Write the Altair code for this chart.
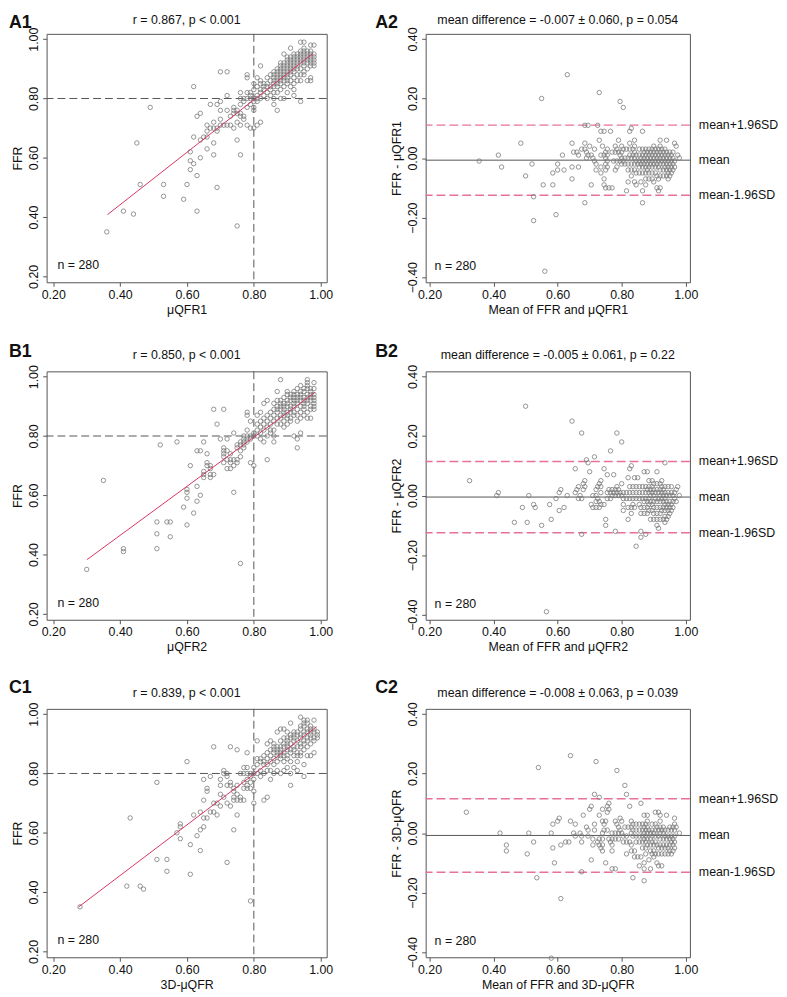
import altair as alt
import pandas as pd

FONT = "Liberation Sans"
INK = "#111111"
PT = "#7a7a7a"
FRAME = "#555555"
RED = "#d8355f"
PINK = "#e8709a"

# ---------------- data ----------------
# Panel A: (uQFR1 value, FFR values observed at that uQFR1)
a_cols = [
    (0.36, [0.35]), (0.41, [0.42]), (0.44, [0.41]), (0.45, [0.65]), (0.46, [0.51]),
    (0.49, [0.77]), (0.53, [0.51, 0.47]), (0.59, [0.46]), (0.60, [0.51]),
    (0.61, [0.62, 0.59, 0.56]), (0.62, [0.84, 0.58, 0.67]), (0.63, [0.54, 0.42, 0.74]),
    (0.64, [0.75, 0.60, 0.66]), (0.65, [0.67]), (0.66, [0.67, 0.63, 0.69, 0.71]),
    (0.67, [0.78, 0.70]), (0.68, [0.72, 0.65, 0.61, 0.70]), (0.69, [0.50, 0.69, 0.70, 0.78]),
    (0.70, [0.79, 0.89, 0.73, 0.76, 0.71]), (0.71, [0.71]), (0.72, [0.89, 0.81, 0.76, 0.71]),
    (0.73, [0.71, 0.74]), (0.74, [0.70, 0.76, 0.75, 0.77]), (0.75, [0.72, 0.66, 0.37, 0.75, 0.76]),
    (0.76, [0.61, 0.71, 0.82, 0.80, 0.78, 0.74, 0.75]), (0.77, [0.74, 0.73, 0.80, 0.79]),
    (0.78, [0.87, 0.88, 0.82, 0.71, 0.80, 0.77]), (0.79, [0.82, 0.70, 0.80, 0.78, 0.81]),
    (0.80, [0.70, 0.76, 0.77, 0.79, 0.80, 0.83, 0.85]), (0.81, [0.71, 0.79, 0.80, 0.81, 0.84, 0.87]),
    (0.82, [0.72, 0.91, 0.80, 0.82, 0.83, 0.85, 0.86]), (0.83, [0.85, 0.81, 0.83, 0.84]),
    (0.84, [0.87, 0.80, 0.82, 0.84, 0.85]), (0.85, [0.81, 0.83, 0.84, 0.86, 0.88]),
    (0.86, [0.78, 0.80, 0.82, 0.84, 0.85, 0.86, 0.87, 0.88, 0.89]),
    (0.87, [0.76, 0.82, 0.84, 0.85, 0.86, 0.87, 0.88, 0.89, 0.90]),
    (0.88, [0.80, 0.83, 0.85, 0.86, 0.87, 0.88, 0.89, 0.90, 0.91, 0.92]),
    (0.89, [0.80, 0.84, 0.86, 0.87, 0.88, 0.89, 0.90, 0.91, 0.92, 0.95]),
    (0.90, [0.82, 0.85, 0.86, 0.87, 0.88, 0.89, 0.90, 0.91, 0.92, 0.93, 0.94]),
    (0.91, [0.84, 0.86, 0.88, 0.89, 0.90, 0.91, 0.92, 0.93, 0.94, 0.97]),
    (0.92, [0.81, 0.83, 0.85, 0.87, 0.89, 0.90, 0.91, 0.92, 0.93, 0.94, 0.95]),
    (0.93, [0.86, 0.88, 0.90, 0.91, 0.92, 0.93, 0.94, 0.95]),
    (0.94, [0.79, 0.86, 0.88, 0.90, 0.92, 0.93, 0.94, 0.95, 0.96, 0.99]),
    (0.95, [0.88, 0.89, 0.91, 0.92, 0.93, 0.94, 0.95, 0.96, 0.97, 0.99]),
    (0.96, [0.86, 0.90, 0.92, 0.93, 0.94, 0.95, 0.96]),
    (0.97, [0.86, 0.87, 0.91, 0.92, 0.93, 0.94, 0.95, 0.96, 0.98]),
    (0.98, [0.91, 0.92, 0.93, 0.94, 0.95, 0.98]),
]

# Panel B: (uQFR2 value, FFR values)
b_cols = [
    (0.30, [0.35]), (0.35, [0.65]), (0.41, [0.42, 0.41]), (0.51, [0.51, 0.47, 0.42]),
    (0.52, [0.77]), (0.54, [0.51]), (0.55, [0.51, 0.46]), (0.57, [0.78]), (0.59, [0.56]),
    (0.60, [0.62, 0.61, 0.59, 0.50]), (0.61, [0.70]), (0.62, [0.54]), (0.63, [0.75, 0.63, 0.58]),
    (0.64, [0.75, 0.60]), (0.65, [0.78, 0.68, 0.67, 0.66]), (0.66, [0.74, 0.71, 0.70]),
    (0.67, [0.69, 0.67, 0.66, 0.70]), (0.68, [0.67, 0.89]), (0.69, [0.84]), (0.70, [0.79]),
    (0.71, [0.89, 0.76, 0.75, 0.74, 0.73, 0.71]), (0.72, [0.79, 0.72, 0.69, 0.75]),
    (0.73, [0.74, 0.72, 0.71, 0.69]), (0.74, [0.81, 0.72, 0.70, 0.61]),
    (0.75, [0.77, 0.76, 0.72, 0.71]), (0.76, [0.37, 0.73, 0.77, 0.78, 0.75]),
    (0.77, [0.76, 0.78, 0.79, 0.80, 0.77]), (0.78, [0.88, 0.87, 0.82, 0.79, 0.80, 0.78]),
    (0.79, [0.71, 0.80, 0.79, 0.85]), (0.80, [0.70, 0.80, 0.81]), (0.81, [0.84, 0.87, 0.80, 0.82]),
    (0.82, [0.88, 0.79, 0.81, 0.83, 0.85]), (0.83, [0.91, 0.78, 0.82, 0.84, 0.86]),
    (0.84, [0.92, 0.72, 0.80, 0.83, 0.85, 0.87]), (0.85, [0.81, 0.82, 0.84, 0.86, 0.88]),
    (0.86, [0.78, 0.80, 0.82, 0.85, 0.87, 0.89, 0.91]),
    (0.87, [0.84, 0.86, 0.88, 0.89, 0.90, 0.92, 0.95]),
    (0.88, [0.99, 0.84, 0.86, 0.87, 0.89, 0.90, 0.91, 0.92]),
    (0.89, [0.83, 0.85, 0.87, 0.88, 0.89, 0.90, 0.91, 0.93]),
    (0.90, [0.84, 0.86, 0.87, 0.88, 0.90, 0.91, 0.92, 0.94, 0.95]),
    (0.91, [0.85, 0.86, 0.88, 0.89, 0.90, 0.92, 0.93, 0.94]),
    (0.92, [0.80, 0.87, 0.88, 0.90, 0.91, 0.92, 0.93, 0.94, 0.95]),
    (0.93, [0.79, 0.76, 0.85, 0.87, 0.89, 0.91, 0.92, 0.93, 0.94, 0.96]),
    (0.94, [0.81, 0.86, 0.88, 0.90, 0.92, 0.93, 0.94, 0.95, 0.97]),
    (0.95, [0.87, 0.89, 0.90, 0.91, 0.92, 0.93, 0.95, 0.96]),
    (0.96, [0.86, 0.88, 0.91, 0.92, 0.93, 0.94, 0.96, 0.97, 0.98, 0.99]),
    (0.97, [0.86, 0.89, 0.90, 0.92, 0.93, 0.94, 0.95, 0.96]),
    (0.98, [0.89, 0.90, 0.91, 0.92, 0.93, 0.94, 0.96, 0.98]),
]

# Panel C: (3D-uQFR value, FFR values)
c_cols = [
    (0.28, [0.35]), (0.42, [0.42]), (0.43, [0.65]), (0.46, [0.42]), (0.47, [0.41]),
    (0.51, [0.77, 0.51]), (0.54, [0.51, 0.47]), (0.57, [0.60]), (0.58, [0.63, 0.62, 0.58]),
    (0.60, [0.84]), (0.61, [0.56, 0.46]), (0.62, [0.66]), (0.63, [0.59]),
    (0.64, [0.54, 0.61, 0.67]), (0.65, [0.62, 0.71, 0.78, 0.65]), (0.66, [0.75, 0.74, 0.65]),
    (0.67, [0.79, 0.67]), (0.68, [0.67, 0.89, 0.70]), (0.69, [0.66, 0.70]),
    (0.70, [0.78, 0.69, 0.73, 0.76]), (0.71, [0.81, 0.72, 0.80]),
    (0.72, [0.80, 0.76, 0.70, 0.50, 0.79]), (0.73, [0.89, 0.69, 0.77, 0.76]),
    (0.74, [0.61, 0.75, 0.71, 0.72, 0.74]), (0.75, [0.88, 0.66, 0.76, 0.71, 0.73]),
    (0.76, [0.71, 0.80, 0.72]), (0.77, [0.71, 0.80, 0.82, 0.75, 0.77]),
    (0.78, [0.87, 0.80, 0.82, 0.75, 0.78, 0.76]), (0.79, [0.80, 0.37, 0.77, 0.79, 0.75]),
    (0.80, [0.70, 0.74, 0.78, 0.80, 0.82]), (0.81, [0.91, 0.80, 0.83, 0.85]),
    (0.82, [0.79, 0.81, 0.84, 0.85]), (0.83, [0.71, 0.80, 0.83, 0.84, 0.86]),
    (0.84, [0.72, 0.81, 0.83, 0.85, 0.87, 0.90]), (0.85, [0.78, 0.81, 0.84, 0.86, 0.88, 0.91]),
    (0.86, [0.80, 0.83, 0.85, 0.87, 0.88, 0.89, 0.90]),
    (0.87, [0.81, 0.84, 0.86, 0.87, 0.88, 0.89, 0.94]),
    (0.88, [0.80, 0.85, 0.86, 0.87, 0.88, 0.89, 0.91, 0.95]),
    (0.89, [0.81, 0.84, 0.86, 0.87, 0.89, 0.90, 0.92, 0.95]),
    (0.90, [0.82, 0.85, 0.86, 0.88, 0.89, 0.90, 0.91, 0.92, 0.94]),
    (0.91, [0.76, 0.80, 0.84, 0.87, 0.88, 0.90, 0.92, 0.93, 0.97]),
    (0.92, [0.82, 0.86, 0.88, 0.89, 0.91, 0.92, 0.93, 0.94]),
    (0.93, [0.81, 0.84, 0.86, 0.87, 0.89, 0.91, 0.93, 0.94]),
    (0.94, [0.86, 0.87, 0.89, 0.90, 0.92, 0.93, 0.95, 0.96, 0.99]),
    (0.95, [0.79, 0.83, 0.88, 0.90, 0.91, 0.93, 0.94, 0.96, 0.97, 0.98]),
    (0.96, [0.86, 0.89, 0.91, 0.92, 0.94, 0.95, 0.97, 0.98]),
    (0.97, [0.86, 0.90, 0.92, 0.93, 0.94, 0.95, 0.96]),
    (0.98, [0.87, 0.91, 0.92, 0.94, 0.95, 0.98]),
    (0.99, [0.92, 0.93, 0.94]),
]

# regression line end points (x, y)
reg_a_x, reg_a_y = [0.362, 0.977], [0.408, 0.952]
reg_b_x, reg_b_y = [0.301, 0.983], [0.383, 0.947]
reg_c_x, reg_c_y = [0.276, 0.988], [0.350, 0.958]

# Bland-Altman summaries from the panel titles: mean difference, SD
ba_a = [-0.007, 0.060]
ba_b = [-0.005, 0.061]
ba_c = [-0.008, 0.063]

titles_r = ["r = 0.867, p < 0.001", "r = 0.850, p < 0.001", "r = 0.839, p < 0.001"]
titles_ba = ["mean difference = -0.007 \u00b1 0.060, p = 0.054",
             "mean difference = -0.005 \u00b1 0.061, p = 0.22",
             "mean difference = -0.008 \u00b1 0.063, p = 0.039"]
methods = ["\u03bcQFR1", "\u03bcQFR2", "3D-\u03bcQFR"]
tags = [("A1", "A2"), ("B1", "B2"), ("C1", "C2")]
n_label = "n = 280"
ticks_sc = [0.2, 0.4, 0.6, 0.8, 1.0]
ticks_ba = [-0.4, -0.2, 0.0, 0.2, 0.4]
cut_value = [0.8]
ba_labels = ["mean+1.96SD", "mean", "mean-1.96SD"]

# ---------------- layout ----------------
W1, W2, H = 283, 267, 251
SC_DOM = [0.18, 1.018]
BA_X = [0.188, 1.013]
BA_Y = [-0.417, 0.417]
# (title baseline, tag baseline) above each row's plot frame
ROW_OFFSETS = [(-10, -6), (-12, -15), (-12, -16)]


def flatten(cols):
    xs, ys = [], []
    for x, ylist in cols:
        for y in ylist:
            xs.append(x)
            ys.append(y)
    return xs, ys


def text_layer(txt, x, y, size=12.5, weight="normal", align="left"):
    return alt.Chart(pd.DataFrame({"t": [txt]})).mark_text(
        align=align, baseline="alphabetic", font=FONT, fontSize=size,
        fontWeight=weight, color=INK).encode(x=alt.value(x), y=alt.value(y), text="t:N")


def scatter_panel(cols, rx, ry, title, method, tag, offs):
    qx, fy = flatten(cols)
    xs = alt.Scale(domain=SC_DOM, nice=False, zero=False)
    ys = alt.Scale(domain=SC_DOM, nice=False, zero=False)
    X = alt.X("q:Q", scale=xs, axis=alt.Axis(title=method, values=ticks_sc, format=".2f"))
    Y = alt.Y("f:Q", scale=ys, axis=alt.Axis(title="FFR", values=ticks_sc, format=".2f"))
    pts = alt.Chart(pd.DataFrame({"q": qx, "f": fy})).mark_point(
        shape="circle", filled=False, size=20, color=PT, strokeWidth=0.8, opacity=1
    ).encode(x=X, y=Y)
    vline = alt.Chart(pd.DataFrame({"q": cut_value})).mark_rule(
        color=FRAME, strokeDash=[8, 4], strokeWidth=1).encode(x=X)
    hline = alt.Chart(pd.DataFrame({"f": cut_value})).mark_rule(
        color=FRAME, strokeDash=[8, 4], strokeWidth=1).encode(y=Y)
    reg = alt.Chart(pd.DataFrame({"q": rx, "f": ry})).mark_line(
        color=RED, strokeWidth=1).encode(x=X, y=Y)
    n_txt = text_layer(n_label, 11, H - 13)
    tag_txt = text_layer(tag, -38, offs[1], size=18, weight="bold")
    ttl = text_layer(title, W1 / 2, offs[0], align="center")
    return alt.layer(vline, hline, pts, reg, n_txt, tag_txt, ttl).properties(width=W1, height=H)


def ba_panel(cols, stats, title, method, tag, offs):
    qx, fy = flatten(cols)
    m = [(a + b) / 2 for a, b in zip(qx, fy)]
    d = [round(b - a, 3) for a, b in zip(qx, fy)]
    mean, sd = stats
    upper, lower = mean + 1.96 * sd, mean - 1.96 * sd
    xs = alt.Scale(domain=BA_X, nice=False, zero=False)
    ys = alt.Scale(domain=BA_Y, nice=False, zero=False)
    X = alt.X("m:Q", scale=xs, axis=alt.Axis(title="Mean of FFR and " + method,
                                             values=ticks_sc, format=".2f"))
    Y = alt.Y("d:Q", scale=ys, axis=alt.Axis(title="FFR - " + method,
                                             values=ticks_ba, format=".2f"))
    pts = alt.Chart(pd.DataFrame({"m": m, "d": d})).mark_point(
        shape="circle", filled=False, size=20, color=PT, strokeWidth=0.8, opacity=1
    ).encode(x=X, y=Y)
    mline = alt.Chart(pd.DataFrame({"d": [mean]})).mark_rule(
        color=FRAME, strokeWidth=1).encode(y=Y)
    lim = alt.Chart(pd.DataFrame({"d": [upper, lower]})).mark_rule(
        color=PINK, strokeDash=[9, 4], strokeWidth=1.5).encode(y=Y)
    labs = alt.Chart(pd.DataFrame({"d": [upper, mean, lower], "t": ba_labels})).mark_text(
        align="left", baseline="middle", font=FONT, fontSize=12.5, color=INK
    ).encode(x=alt.value(W2 + 9), y=Y, text="t:N")
    n_txt = text_layer(n_label, 9, H - 12)
    tag_txt = text_layer(tag, -51, offs[1], size=18, weight="bold")
    ttl = text_layer(title, W2 / 2, offs[0], align="center")
    return alt.layer(lim, mline, pts, labs, n_txt, tag_txt, ttl).properties(width=W2, height=H)


panels = []
for cols, rx, ry, st, tr, tb, meth, tg, offs in [
    (a_cols, reg_a_x, reg_a_y, ba_a, titles_r[0], titles_ba[0], methods[0], tags[0], ROW_OFFSETS[0]),
    (b_cols, reg_b_x, reg_b_y, ba_b, titles_r[1], titles_ba[1], methods[1], tags[1], ROW_OFFSETS[1]),
    (c_cols, reg_c_x, reg_c_y, ba_c, titles_r[2], titles_ba[2], methods[2], tags[2], ROW_OFFSETS[2]),
]:
    panels.append(scatter_panel(cols, rx, ry, tr, meth, tg[0], offs))
    panels.append(ba_panel(cols, st, tb, meth, tg[1], offs))

chart = alt.concat(
    *panels, columns=2, spacing={"row": 90, "column": 100}, bounds="flush", align="each"
).properties(
    padding={"left": 0, "top": 0, "right": 0, "bottom": 0}
).configure_view(
    stroke=FRAME, strokeWidth=1
).configure_axis(
    labelFont=FONT, labelFontSize=12.5, labelColor=INK, tickColor=FRAME, tickSize=4,
    tickWidth=1, domain=False, grid=False, titleFont=FONT, titleFontSize=12.5,
    titleFontWeight="normal", titleColor=INK, labelPadding=2, labelFlush=False,
    labelOverlap=False
).configure_axisX(
    titlePadding=3
).configure_axisY(
    labelAngle=270, labelAlign="center", labelBaseline="bottom", titlePadding=3
)

chart.save("out.html", embed_options={"renderer": "svg", "actions": False})
